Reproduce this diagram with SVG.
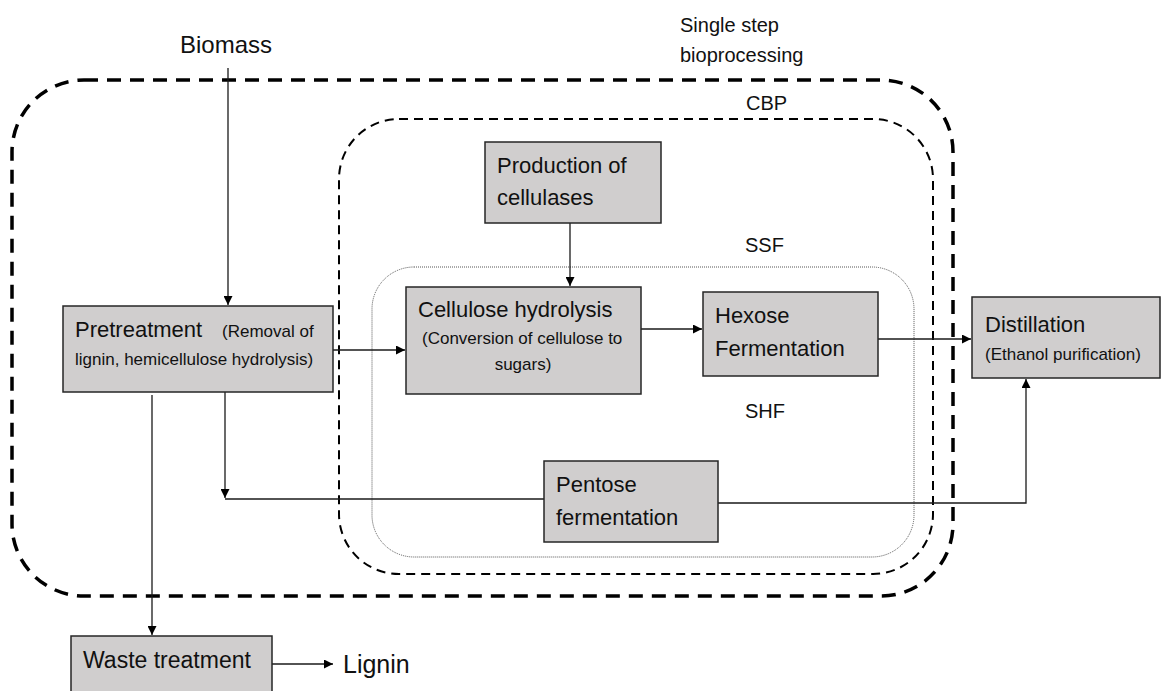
<svg xmlns="http://www.w3.org/2000/svg" width="1162" height="691" viewBox="0 0 1162 691">
<style>
  .box { fill: #d0cece; stroke: #262626; stroke-width: 1.5; }
  .t { font-family: "Liberation Sans", Arial, sans-serif; fill: #111; }
  .big { font-size: 22px; }
  .small { font-size: 17px; }
  .lbl { font-size: 20px; }
  .conn { fill: none; stroke: #1a1a1a; stroke-width: 1.3; }
  .outer { fill: none; stroke: #000; stroke-width: 3.5; stroke-dasharray: 14 9; }
  .inner { fill: none; stroke: #000; stroke-width: 2; stroke-dasharray: 9 6; }
  .dot { fill: none; stroke: #555; stroke-width: 1; stroke-dasharray: 1 1; }
</style>
<defs>
  <marker id="arr" viewBox="0 0 10 10" refX="10" refY="5" markerWidth="9" markerHeight="9" markerUnits="userSpaceOnUse" orient="auto">
    <path d="M0,0 L10,5 L0,10 z" fill="#000"/>
  </marker>
</defs>
<rect width="1162" height="691" fill="#fff"/>

<g id="regions">
  <rect class="outer" x="12" y="80" width="941" height="516" rx="72" ry="72"/>
  <rect class="inner" x="339" y="119" width="594" height="455" rx="60" ry="60"/>
  <rect class="dot" x="372" y="267" width="542" height="290" rx="42" ry="42"/>
  <text class="t lbl" x="680" y="32">Single step</text>
  <text class="t lbl" x="680" y="62">bioprocessing</text>
  <text class="t lbl" x="746" y="110">CBP</text>
  <text class="t lbl" x="745" y="252">SSF</text>
  <text class="t lbl" x="745" y="418">SHF</text>
</g>

<g id="connectors">
  <path class="conn" d="M228,68 V305" marker-end="url(#arr)"/>
  <path class="conn" d="M333,350 H405" marker-end="url(#arr)"/>
  <path class="conn" d="M570,223 V286" marker-end="url(#arr)"/>
  <path class="conn" d="M641,329 H702" marker-end="url(#arr)"/>
  <path class="conn" d="M878,339 H971" marker-end="url(#arr)"/>
  <path class="conn" d="M225,392 V498" marker-end="url(#arr)"/>
  <path class="conn" d="M225,499 H544"/>
  <path class="conn" d="M718,503 H1026 V379" marker-end="url(#arr)"/>
  <path class="conn" d="M152,395 V635" marker-end="url(#arr)" stroke="#444"/>
  <path class="conn" d="M272,664 H333" marker-end="url(#arr)"/>
</g>

<g id="biomass">
  <text class="t" font-size="24" x="180" y="53">Biomass</text>
</g>

<g id="pretreatment">
  <rect class="box" x="63" y="306" width="270" height="86"/>
  <text class="t big" x="75" y="337">Pretreatment</text>
  <text class="t small" x="222" y="337">(Removal of</text>
  <text class="t small" x="75" y="365">lignin, hemicellulose hydrolysis)</text>
</g>

<g id="production">
  <rect class="box" x="485" y="142" width="176" height="81"/>
  <text class="t big" x="497" y="173">Production of</text>
  <text class="t big" x="497" y="205">cellulases</text>
</g>

<g id="cellulose">
  <rect class="box" x="406" y="287" width="235" height="107"/>
  <text class="t big" x="418" y="317">Cellulose hydrolysis</text>
  <text class="t small" x="422" y="344">(Conversion of cellulose to</text>
  <text class="t small" x="523" y="370" text-anchor="middle">sugars)</text>
</g>

<g id="hexose">
  <rect class="box" x="703" y="292" width="175" height="84"/>
  <text class="t big" x="715" y="323">Hexose</text>
  <text class="t big" x="715" y="356">Fermentation</text>
</g>

<g id="distillation">
  <rect class="box" x="972" y="297" width="188" height="81"/>
  <text class="t big" x="985" y="332">Distillation</text>
  <text class="t small" x="985" y="360">(Ethanol purification)</text>
</g>

<g id="pentose">
  <rect class="box" x="544" y="461" width="174" height="81"/>
  <text class="t big" x="556" y="492">Pentose</text>
  <text class="t big" x="556" y="525">fermentation</text>
</g>

<g id="waste">
  <rect class="box" x="71" y="636" width="201" height="62"/>
  <text class="t" font-size="23" x="83" y="668">Waste treatment</text>
</g>

<g id="lignin">
  <text class="t" font-size="25" x="343" y="673">Lignin</text>
</g>
</svg>
